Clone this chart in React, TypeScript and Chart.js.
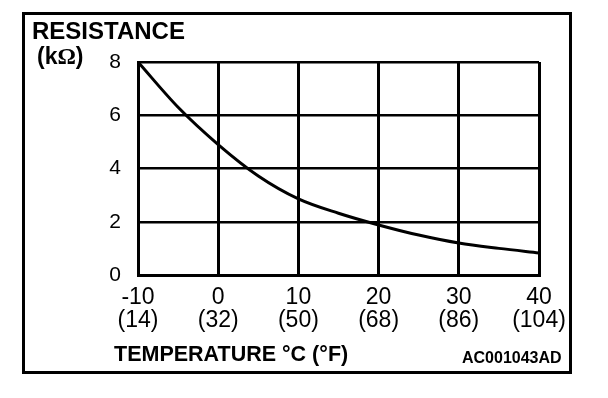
import React, { useEffect, useRef } from "react";
import { Chart, registerables } from "chart.js";

Chart.register(...registerables);

const temperaturesC = [-10, -5, 0, 5, 10, 15, 20, 25, 30, 35, 40];
const resistanceK = [8.0, 6.3, 4.9, 3.72, 2.86, 2.32, 1.88, 1.5, 1.2, 1.0, 0.83];
const xTickValues = [-10, 0, 10, 20, 30, 40];
const xTickCelsius = ["-10", "0", "10", "20", "30", "40"];
const xTickFahrenheit = ["(14)", "(32)", "(50)", "(68)", "(86)", "(104)"];
const yTitleLine1 = "RESISTANCE";
const yTitleLine2 = "kΩ";
const xTitle = "TEMPERATURE °C (°F)";
const figureCode = "AC001043AD";

const SANS = '"Liberation Sans", Arial, Helvetica, sans-serif';

const decorPlugin = {
  id: "decor",
  afterDraw(chart: any) {
    const ctx = chart.ctx as CanvasRenderingContext2D;
    ctx.save();
    ctx.strokeStyle = "#000";
    ctx.lineWidth = 3;
    ctx.strokeRect(23.5, 13.5, 547, 359);
    ctx.fillStyle = "#000";
    ctx.textBaseline = "alphabetic";
    ctx.textAlign = "left";
    ctx.font = `bold 24px ${SANS}`;
    ctx.fillText(yTitleLine1, 32, 39);
    // (kΩ)
    let x = 37;
    const by = 64;
    ctx.font = `bold 23px ${SANS}`;
    ctx.fillText("(" + yTitleLine2.charAt(0), x, by);
    x += ctx.measureText("(" + yTitleLine2.charAt(0)).width;
    ctx.font = `bold 23px "Liberation Serif", "Times New Roman", serif`;
    ctx.fillText(yTitleLine2.charAt(1), x, by);
    x += ctx.measureText(yTitleLine2.charAt(1)).width;
    ctx.font = `bold 23px ${SANS}`;
    ctx.fillText(")", x, by);
    ctx.font = `bold 21.5px ${SANS}`;
    ctx.fillText(xTitle, 114, 361);
    ctx.font = `bold 16px ${SANS}`;
    ctx.fillText(figureCode, 462, 363);
    ctx.restore();
  },
};

export default function App() {
  const ref = useRef<HTMLCanvasElement | null>(null);
  useEffect(() => {
    if (!ref.current) return;
    const chart = new Chart(ref.current, {
      type: "line",
      data: {
        datasets: [
          {
            data: temperaturesC.map((t, i) => ({ x: t, y: resistanceK[i] })),
            borderColor: "#000",
            borderWidth: 3,
            pointRadius: 0,
            cubicInterpolationMode: "monotone",
            fill: false,
          },
        ],
      },
      options: {
        responsive: false,
        animation: false,
        events: [],
        layout: { padding: { left: 0, top: 62, right: 69, bottom: 0 } },
        plugins: { legend: { display: false }, tooltip: { enabled: false } },
        scales: {
          x: {
            type: "linear",
            min: -10,
            max: 40,
            afterFit: (s: any) => {
              s.height = 123;
            },
            afterBuildTicks: (s: any) => {
              s.ticks = xTickValues.map((v) => ({ value: v }));
            },
            grid: { color: "#000", lineWidth: 3, drawTicks: false },
            border: { color: "#000", width: 3 },
            ticks: {
              color: "#000",
              padding: 11,
              maxRotation: 0,
              autoSkip: false,
              font: { family: SANS, size: 23, lineHeight: 1.0 },
              callback: (_v: any, i: number) => [xTickCelsius[i], xTickFahrenheit[i]],
            },
          },
          y: {
            type: "linear",
            min: 0,
            max: 8,
            afterFit: (s: any) => {
              s.width = 138;
            },
            grid: { color: "#000", lineWidth: 2.5, drawTicks: false },
            border: { color: "#000", width: 3 },
            ticks: {
              color: "#000",
              stepSize: 2,
              padding: 17,
              font: { family: SANS, size: 21 },
            },
          },
        },
      },
      plugins: [decorPlugin],
    } as any);
    return () => chart.destroy();
  }, []);
  return (
    <div style={{ position: "fixed", left: 0, top: 0, width: 608, height: 398, background: "#fff" }}>
      <canvas ref={ref} width={608} height={398} style={{ display: "block" }} />
    </div>
  );
}
